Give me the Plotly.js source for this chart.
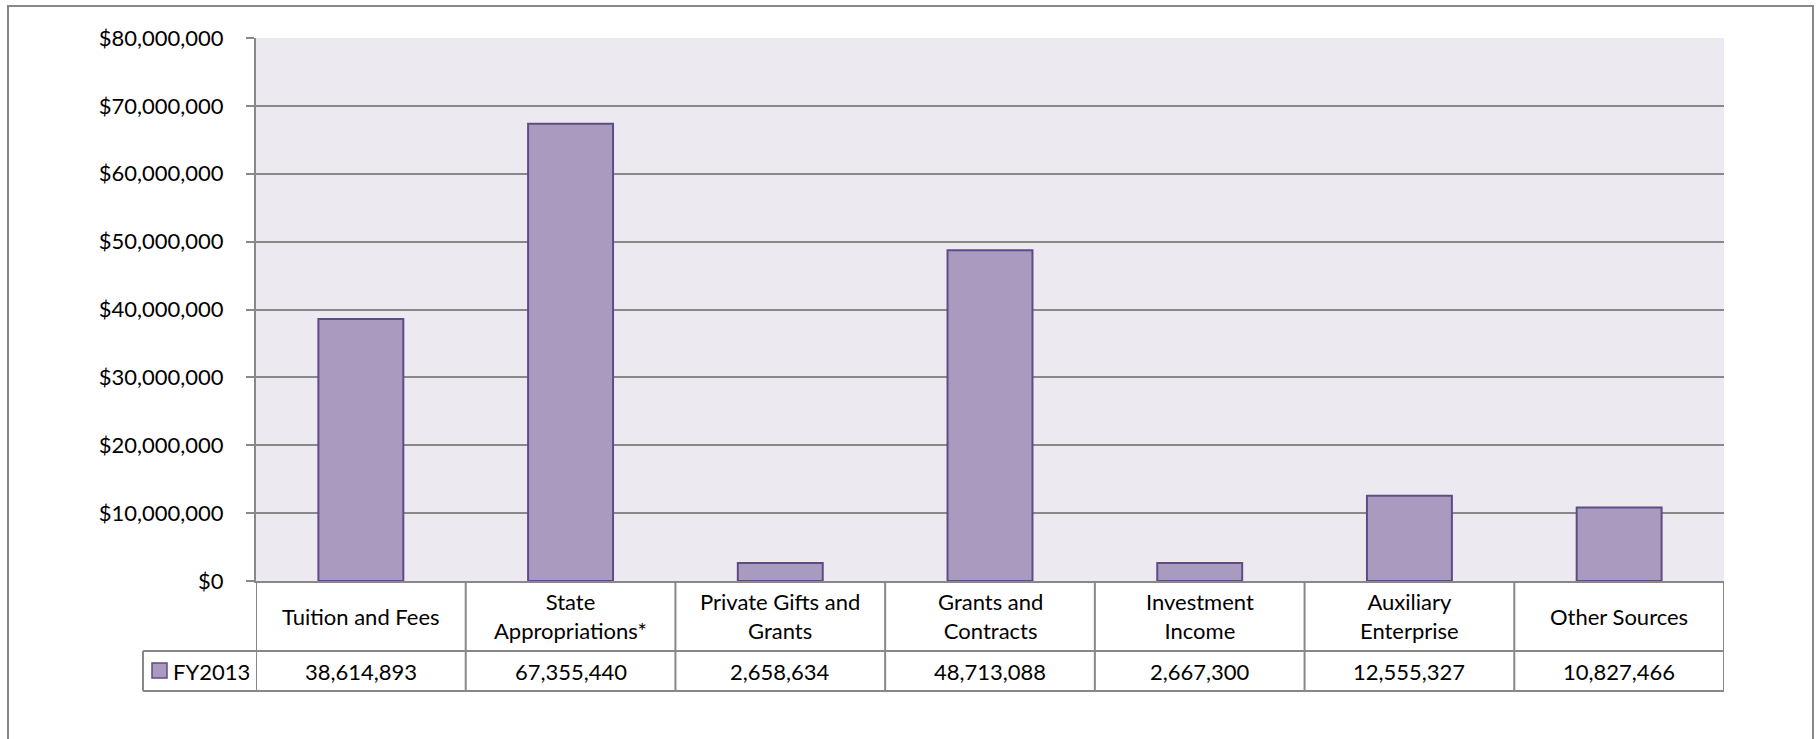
<!DOCTYPE html>
<html>
<head>
<meta charset="utf-8">
<script src="https://cdn.plot.ly/plotly-3.0.1.min.js"></script>
<style>html,body{margin:0;padding:0;background:#fff;}#chart{width:1816px;height:739px;}</style>
</head>
<body>
<div id="chart"></div>
<script>
// ---- data ----
const categories = ['Tuition and Fees', 'State Appropriations*', 'Private Gifts and Grants', 'Grants and Contracts', 'Investment Income', 'Auxiliary Enterprise', 'Other Sources'];
const categoryLabels = ['Tuition and Fees', 'State<br>Appropriations*', 'Private Gifts and<br>Grants', 'Grants and<br>Contracts', 'Investment<br>Income', 'Auxiliary<br>Enterprise', 'Other Sources'];
const seriesName = 'FY2013';
const values = [38614893, 67355440, 2658634, 48713088, 2667300, 12555327, 10827466];
const yTickValues = [0, 10000000, 20000000, 30000000, 40000000, 50000000, 60000000, 70000000, 80000000];
const yTickLabels = yTickValues.map(v => '$' + v.toLocaleString('en-US'));

// ---- styles ----
const FONT = 'Lato, "Open Sans", sans-serif';
const FS = 22;
const GRID = '#888888';
const BAR_FILL = '#a99bbf';
const BAR_LINE = '#5f4b85';

const W = 1816, H = 739;
const L = 256, R = 92, T = 38, B = 158;
const PW = W - L - R, PH = H - T - B;
const px = v => (v - L) / PW;          // pixel x -> paper x
const py = v => (H - B - v) / PH;      // pixel y -> paper y

const catRowBottom = py(651);
const valRowBottom = py(691);
const legendLeft = px(143);

const shapes = [];
// outer chart border
shapes.push({type: 'rect', xref: 'paper', yref: 'paper', x0: px(8), x1: px(1813), y0: py(752), y1: py(6),
  line: {color: GRID, width: 2}, fillcolor: 'rgba(0,0,0,0)'});
// table column dividers
for (let i = 0; i <= categories.length; i++) {
  shapes.push({type: 'line', xref: 'x', yref: 'paper', x0: i - 0.5, x1: i - 0.5, y0: 0, y1: valRowBottom,
    line: {color: GRID, width: 2}});
}
// table row lines
shapes.push({type: 'line', xref: 'paper', yref: 'paper', x0: legendLeft, x1: 1, y0: catRowBottom, y1: catRowBottom, line: {color: GRID, width: 2}});
shapes.push({type: 'line', xref: 'paper', yref: 'paper', x0: legendLeft, x1: 1, y0: valRowBottom, y1: valRowBottom, line: {color: GRID, width: 2}});
shapes.push({type: 'line', xref: 'paper', yref: 'paper', x0: legendLeft, x1: legendLeft, y0: catRowBottom, y1: valRowBottom, line: {color: GRID, width: 2}});
// legend key
shapes.push({type: 'rect', xref: 'paper', yref: 'paper', x0: px(152), x1: px(167), y0: py(678), y1: py(663),
  fillcolor: BAR_FILL, line: {color: BAR_LINE, width: 1.5}});

const annotations = [];
categories.forEach((c, i) => {
  annotations.push({xref: 'x', yref: 'paper', x: c, y: py(616), text: categoryLabels[i], showarrow: false,
    xanchor: 'center', yanchor: 'middle', font: {family: FONT, size: FS, color: '#000'}});
  annotations.push({xref: 'x', yref: 'paper', x: c, y: py(671), text: values[i].toLocaleString('en-US'), showarrow: false,
    xanchor: 'center', yanchor: 'middle', font: {family: FONT, size: FS, color: '#000'}});
});
annotations.push({xref: 'paper', yref: 'paper', x: px(171), y: py(671), text: seriesName, showarrow: false,
  xanchor: 'left', yanchor: 'middle', font: {family: FONT, size: FS, color: '#000'}});

const trace = {
  type: 'bar', x: categories, y: values, name: seriesName,
  marker: {color: BAR_FILL, line: {color: BAR_LINE, width: 2}},
  hoverinfo: 'x+y'
};

const layout = {
  width: W, height: H,
  margin: {l: L, r: R, t: T, b: B, pad: 0},
  paper_bgcolor: '#ffffff', plot_bgcolor: '#eceaf0',
  showlegend: false,
  bargap: 0.595,
  font: {family: FONT, size: FS, color: '#000'},
  xaxis: {type: 'category', range: [-0.5, categories.length - 0.5], showticklabels: false, ticks: '',
    showgrid: false, zeroline: false, showline: true, linecolor: GRID, linewidth: 2, fixedrange: true},
  yaxis: {range: [0, 80000000], tickmode: 'array', tickvals: yTickValues, ticktext: yTickLabels,
    showgrid: true, gridcolor: GRID, gridwidth: 2, zeroline: false,
    showline: true, linecolor: GRID, linewidth: 2, ticks: 'outside', ticklen: 8, tickcolor: GRID, tickwidth: 2,
    ticklabelstandoff: 18, tickfont: {family: FONT, size: FS, color: '#000'}, fixedrange: true},
  shapes: shapes,
  annotations: annotations
};

Plotly.newPlot('chart', [trace], layout, {displayModeBar: false, staticPlot: true});
</script>
</body>
</html>
